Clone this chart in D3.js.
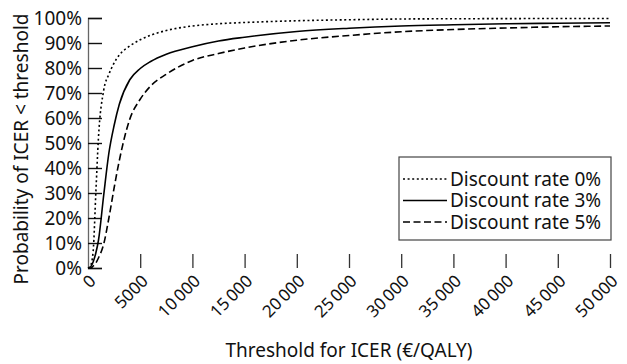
<!DOCTYPE html>
<html>
<head>
<meta charset="utf-8">
<script src="https://cdn.jsdelivr.net/npm/d3@7"></script>
<style>
  body { margin: 0; background: #fff; }
  svg text { font-family: "Noto Sans", sans-serif; fill: #111; }
</style>
</head>
<body>
<div id="chart"></div>
<script>
// threshold values (€/QALY) the curves were read at
const thresholds = [0, 250, 500, 750, 1000, 1500, 2000, 2500, 3000, 4000, 5000, 6000, 7500,
  10000, 12500, 15000, 20000, 25000, 30000, 35000, 40000, 45000, 50000]

// probability (%) that ICER < threshold
const rate0 = [0, 1, 7, 30, 52, 71, 77.5, 82, 85.2, 88.8, 91.3, 93.1, 95, 96.8, 97.7, 98.2, 98.9, 99.3, 99.6, 99.7, 99.75, 99.8, 99.8]
const rate3 = [0, 0.5, 2.5, 6, 11, 29, 46, 57, 65.5, 75.3, 79.8, 82.6, 85.5, 88.5, 90.8, 92.3, 94.6, 95.9, 96.8, 97.3, 97.7, 97.9, 98.1]
const rate5 = [0, 0, 0.8, 2, 4, 9.5, 20, 32, 43, 59.5, 67.5, 72.8, 77.5, 83, 85.8, 88, 91.1, 93, 94.5, 95.4, 96, 96.5, 96.8]

const seriesNames = ["Discount rate 0%", "Discount rate 3%", "Discount rate 5%"]
const xTicks = [0, 5000, 10000, 15000, 20000, 25000, 30000, 35000, 40000, 45000, 50000]
const yTicks = [0, 10, 20, 30, 40, 50, 60, 70, 80, 90, 100]

const width = 627, height = 364
const margin = {top: 18, right: 17, bottom: 96, left: 88}

const svg = d3.select("#chart").append("svg")
    .attr("width", width)
    .attr("height", height)

const x = d3.scaleLinear().domain([0, 50000]).range([margin.left, width - margin.right])
const y = d3.scaleLinear().domain([0, 100]).range([height - margin.bottom, margin.top])

const fmtX = d => d < 10000 ? String(d) : d3.format(",")(d).replace(/,/g, "\u2009")

// y axis (ticks pointing inward)
const yAxis = svg.append("g")
    .attr("transform", `translate(${margin.left},0)`)
    .call(d3.axisRight(y).tickValues(yTicks).tickSize(14).tickFormat(""))
yAxis.select(".domain").attr("stroke", "#666").attr("stroke-width", 1.3)
yAxis.selectAll(".tick line").attr("stroke", "#111").attr("stroke-width", 1.4)

svg.append("g").selectAll("text")
    .data(yTicks)
    .join("text")
    .attr("x", margin.left - 6)
    .attr("y", d => y(d))
    .attr("dy", "0.36em")
    .attr("text-anchor", "end")
    .attr("font-size", 19)
    .text(d => d + "%")

// x axis: ticks only, pointing up
const xAxis = svg.append("g")
    .attr("transform", `translate(0,${height - margin.bottom})`)
    .call(d3.axisTop(x).tickValues(xTicks.slice(1)).tickSize(14).tickFormat(""))
xAxis.select(".domain").remove()
xAxis.selectAll(".tick line").attr("stroke", "#333").attr("stroke-width", 1.3)

svg.append("g").selectAll("text")
    .data(xTicks)
    .join("text")
    .attr("text-anchor", "end")
    .attr("font-size", 17)
    .attr("transform", d => `translate(${x(d) + 9},${height - margin.bottom + 14}) rotate(-45)`)
    .text(fmtX)

// axis titles
svg.append("text")
    .attr("transform", "translate(28,149) rotate(-90)")
    .attr("text-anchor", "middle")
    .attr("font-size", 19)
    .text("Probability of ICER < threshold")

svg.append("text")
    .attr("x", 349)
    .attr("y", 357)
    .attr("text-anchor", "middle")
    .attr("font-size", 19)
    .text("Threshold for ICER (\u20AC/QALY)")

// curves
const dashes = ["2,2.6", null, "7,3.5"]
const series = [rate0, rate3, rate5]

const line = d3.line()
    .x((d, i) => x(thresholds[i]))
    .y(d => y(d))
    .curve(d3.curveMonotoneX)

svg.append("g").selectAll("path")
    .data(series)
    .join("path")
    .attr("d", line)
    .attr("fill", "none")
    .attr("stroke", "#000")
    .attr("stroke-width", 1.6)
    .attr("stroke-dasharray", (d, i) => dashes[i])

// legend
const legend = svg.append("g").attr("transform", "translate(399,157)")
legend.append("rect")
    .attr("width", 212)
    .attr("height", 83)
    .attr("fill", "#fff")
    .attr("stroke", "#444")
    .attr("stroke-width", 1.2)

const items = legend.selectAll("g.item")
    .data(seriesNames)
    .join("g")
    .attr("class", "item")
    .attr("transform", (d, i) => `translate(0,${22 + i * 21.5})`)

items.append("line")
    .attr("x1", 4).attr("x2", 48)
    .attr("stroke", "#000")
    .attr("stroke-width", 1.4)
    .attr("stroke-dasharray", (d, i) => dashes[i])

items.append("text")
    .attr("x", 51)
    .attr("dy", "0.35em")
    .attr("font-size", 19)
    .text(d => d)
</script>
</body>
</html>
